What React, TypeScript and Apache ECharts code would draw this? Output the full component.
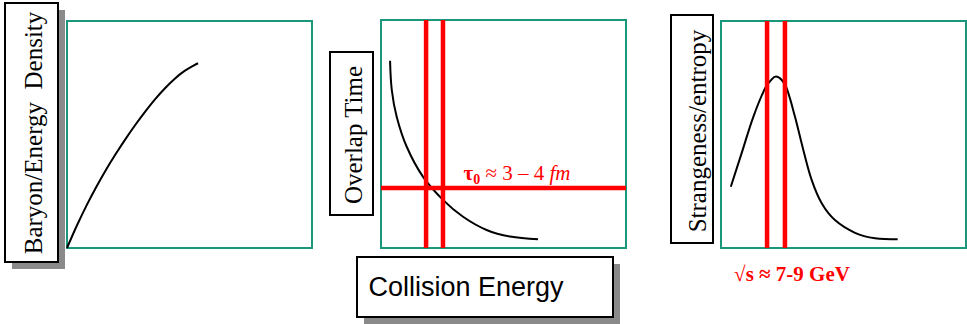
import React, { useEffect, useRef } from "react";
import * as echarts from "echarts";

// Panel 1: baryon / energy density vs collision energy (x, y in 0..100 units)
const baryonCurve: number[][] = [
  [0, 0], [4, 9.8], [8, 18.8], [12, 27.0], [16, 34.6], [20, 41.6],
  [24, 48.2], [28, 54.4], [32, 60.2], [36, 65.6], [40, 70.4], [44, 74.6],
  [48, 78.0], [52, 80.6], [53.5, 81.4],
];
// Panel 2: overlap time vs collision energy
const overlapCurve: number[][] = [
  [3.7, 82.1], [4.4, 69.3], [6.4, 57.6], [10.5, 44.4], [17.1, 31.3],
  [25.3, 21.1], [33.5, 13.7], [43.1, 7.9], [52.7, 5.0], [64.1, 3.8],
];
const overlapBand: number[] = [18.4, 25.3];
const overlapTimeLevel: number = 26.3;
// Panel 3: strangeness / entropy vs collision energy
const strangenessCurve: number[][] = [
  [4.0, 27.0], [8.4, 41.7], [13.2, 57.8], [18.0, 70.4], [20.7, 74.3],
  [22.4, 75.5], [24.8, 74.0], [26.8, 70.4], [30.2, 57.8], [33.6, 43.2],
  [37.0, 30.0], [41.1, 19.7], [46.5, 12.3], [54.7, 6.7], [62.9, 4.3],
  [72.1, 3.8],
];
const strangenessBand: number[] = [18.8, 26.1];

const yLabels: string[] = ["Baryon/Energy  Density", "Overlap Time", "Strangeness/entropy"];
const xLabel = "Collision Energy";
const tauNote = ["τ", "0", " ≈ 3 – 4 ", "fm"];
const sqrtNote = "√s ≈ 7-9 GeV";

const GREEN = "#18977b";
const RED = "#ff0000";
const SERIF = '"Liberation Serif", "Times New Roman", serif';
const SANS = '"Liberation Sans", Arial, sans-serif';

export default function App() {
  const ref = useRef<HTMLDivElement>(null);
  useEffect(() => {
    document.body.style.margin = "0";
    if (!ref.current) return;
    const chart = echarts.init(ref.current, undefined, { renderer: "svg" });

    const gridBase = {
      show: true,
      borderColor: GREEN,
      borderWidth: 2,
      backgroundColor: "transparent",
    };
    const axisX = (i: number) => ({ type: "value", gridIndex: i, min: 0, max: 100, show: false });
    const axisY = (i: number) => ({ type: "value", gridIndex: i, min: 0, max: 100, show: false });

    const curve = (i: number, data: number[][]) => ({
      type: "line",
      xAxisIndex: i,
      yAxisIndex: i,
      data,
      smooth: 0.35,
      symbol: "none",
      silent: true,
      lineStyle: { color: "#000", width: 2 },
      z: 2,
    });
    const vline = (i: number, x: number) => ({
      type: "line",
      xAxisIndex: i,
      yAxisIndex: i,
      data: [[x, 0], [x, 100]],
      symbol: "none",
      silent: true,
      lineStyle: { color: RED, width: 4.5 },
      z: 3,
    });
    const hline = (i: number, y: number) => ({
      type: "line",
      xAxisIndex: i,
      yAxisIndex: i,
      data: [[0, y], [100, y]],
      symbol: "none",
      silent: true,
      lineStyle: { color: RED, width: 4.5 },
      z: 3,
    });

    const vText = (x: number, y: number, text: string) => ({
      type: "text",
      x,
      y,
      rotation: Math.PI / 2,
      silent: true,
      style: {
        text,
        fill: "#000",
        fontSize: 25,
        fontFamily: SERIF,
        textAlign: "center",
        textVerticalAlign: "middle",
        align: "center",
        verticalAlign: "middle",
      },
    });
    const box = (x: number, y: number, w: number, h: number, shadow: boolean) => {
      const els: any[] = [];
      if (shadow) {
        els.push({
          type: "rect",
          silent: true,
          shape: { x: x + 7, y: y + 7, width: w, height: h },
          style: { fill: "#8a8a8a", stroke: null },
        });
      }
      els.push({
        type: "rect",
        silent: true,
        shape: { x, y, width: w, height: h },
        style: { fill: "#fff", stroke: "#000", lineWidth: 2 },
      });
      return els;
    };

    const richTok = (extra: any) => ({
      fontSize: 21,
      fontFamily: SERIF,
      fill: RED,
      color: RED,
      lineHeight: 24,
      verticalAlign: "bottom",
      ...extra,
    });

    chart.setOption({
      animation: false,
      backgroundColor: "#fff",
      grid: [
        { ...gridBase, left: 67, top: 21, width: 245, height: 227 },
        { ...gridBase, left: 381, top: 20, width: 245, height: 228 },
        { ...gridBase, left: 721, top: 21, width: 245, height: 227 },
      ],
      xAxis: [axisX(0), axisX(1), axisX(2)],
      yAxis: [axisY(0), axisY(1), axisY(2)],
      series: [
        curve(0, baryonCurve),
        curve(1, overlapCurve),
        vline(1, overlapBand[0]),
        vline(1, overlapBand[1]),
        hline(1, overlapTimeLevel),
        curve(2, strangenessCurve),
        vline(2, strangenessBand[0]),
        vline(2, strangenessBand[1]),
      ],
      graphic: [
        ...box(5, 3, 53, 259, true),
        vText(33, 133, yLabels[0]),
        ...box(330, 52, 43, 163, false),
        vText(353, 135, yLabels[1]),
        ...box(671, 15, 42, 228, false),
        vText(697, 131, yLabels[2]),
        ...box(357, 257, 256, 60, true),
        {
          type: "text",
          x: 466,
          y: 287,
          silent: true,
          style: {
            text: xLabel,
            fill: "#000",
            fontSize: 27,
            fontFamily: SANS,
            textAlign: "center",
            textVerticalAlign: "middle",
            align: "center",
            verticalAlign: "middle",
          },
        },
        {
          type: "text",
          x: 517,
          y: 171,
          silent: true,
          style: {
            text: `{t|${tauNote[0]}}{s|${tauNote[1]}}{n|${tauNote[2]}}{i|${tauNote[3]}}`,
            fill: RED,
            fontSize: 21,
            fontFamily: SERIF,
            textAlign: "center",
            textVerticalAlign: "middle",
            align: "center",
            verticalAlign: "middle",
            rich: {
              t: richTok({ fontWeight: "bold" }),
              s: richTok({ fontSize: 14, fontWeight: "bold", padding: [0, 0, -3, 0] }),
              n: richTok({}),
              i: richTok({ fontStyle: "italic" }),
            },
          },
        },
        {
          type: "text",
          x: 792,
          y: 274,
          silent: true,
          style: {
            text: sqrtNote,
            fill: RED,
            fontSize: 21,
            fontWeight: "bold",
            fontFamily: SERIF,
            textAlign: "center",
            textVerticalAlign: "middle",
            align: "center",
            verticalAlign: "middle",
          },
        },
      ],
    });
    return () => chart.dispose();
  }, []);
  return <div ref={ref} style={{ width: 967, height: 324, position: "absolute", left: 0, top: 0 }} />;
}
